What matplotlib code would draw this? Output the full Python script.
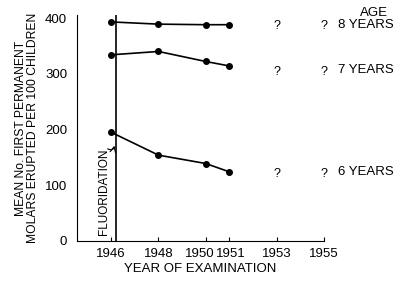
import matplotlib.pyplot as plt
from matplotlib.transforms import ScaledTranslation

plt.rcParams['font.family'] = ['Liberation Sans', 'DejaVu Sans']

# survey years and mean erupted molars per 100 children, by age
years = [1946, 1948, 1950, 1951]
age8 = [393, 389, 388, 388]
age7 = [334, 340, 322, 314]
age6 = [195, 154, 139, 124]
future_years = [1953, 1955]
tick_years = [1946, 1948, 1950, 1951, 1953, 1955]
age_labels = ['8 YEARS', '7 YEARS', '6 YEARS']
label_levels = [388, 307, 123]
fluoridation_year = 1946.2

fig = plt.figure(figsize=(4.07, 2.82), dpi=100)
ax = fig.add_axes([0.189, 0.1454, 0.607, 0.8006])

for series in (age8, age7, age6):
    ax.plot(years, series, color='black', lw=1.2, marker='o', ms=4, clip_on=False)

ax.axvline(fluoridation_year, color='black', lw=1.2)
ax.text(1945.7, 10, 'FLUORIDATION', rotation=90, ha='center', va='bottom', fontsize=8.5)
ax.annotate('', xy=(1946.15, 176), xytext=(1945.75, 168),
            arrowprops=dict(arrowstyle='->', lw=0.8, connectionstyle='arc3,rad=0.9'))

# question marks for years not yet examined, and the age labels
for level, name in zip(label_levels, age_labels):
    for yr in future_years:
        ax.text(yr, level - 3, '?', ha='center', va='center', fontsize=9, clip_on=False)
    ax.text(1955.6, level, name, ha='left', va='center', fontsize=9.5, clip_on=False)
ax.text(1957.1, 409, 'AGE', ha='center', va='center', fontsize=9.5, clip_on=False)

ax.set_xlim(1944.55, 1955)
ax.set_ylim(0, 405)
ax.set_xticks(tick_years)
ax.set_yticks([0, 100, 200, 300, 400])
ax.tick_params(axis='x', direction='in', length=3, labelsize=9.5, pad=5)
ax.tick_params(axis='y', length=0, labelsize=9.5, pad=7)
for side in ('top', 'right'):
    ax.spines[side].set_visible(False)

# 1950 and 1951 labels sit close together; nudge them apart like the original
shifts = {1950: -4 / 72, 1951: 1 / 72}
for lbl, yr in zip(ax.get_xticklabels(), tick_years):
    if yr in shifts:
        lbl.set_transform(lbl.get_transform() + ScaledTranslation(shifts[yr], 0, fig.dpi_scale_trans))

ax.set_xlabel('YEAR OF EXAMINATION', fontsize=9.5, labelpad=2)
ax.set_ylabel('MEAN No. FIRST PERMANENT\nMOLARS ERUPTED PER 100 CHILDREN', fontsize=8.7, labelpad=4, linespacing=1.0)

fig.savefig('out.png', dpi=100)
